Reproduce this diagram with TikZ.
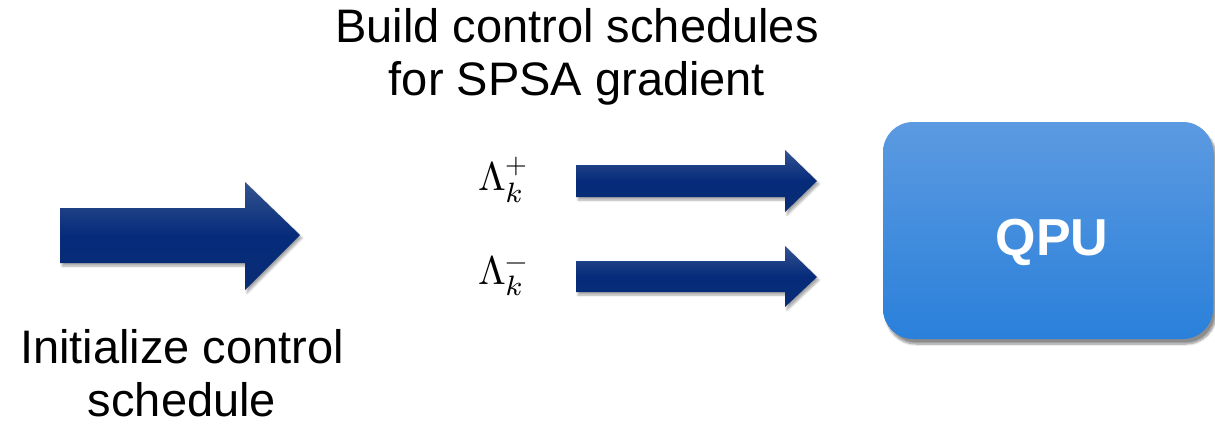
\documentclass[tikz,border=0pt]{standalone}
\usepackage{fontspec}
\setmainfont{Liberation Sans}
\usepackage{unicode-math}
\setmathfont{Latin Modern Math}
\usetikzlibrary{shadows.blur}
\definecolor{navytop}{HTML}{34528F}
\definecolor{navymid}{HTML}{052B7A}
\definecolor{navybot}{HTML}{0A2D74}
\definecolor{qputop}{HTML}{5C9AE1}
\definecolor{qpubot}{HTML}{2A80DA}
\tikzset{
  blockarrow/.style={top color=navytop, bottom color=navybot, middle color=navymid, draw=none,
    blur shadow={shadow xshift=2pt, shadow yshift=-3pt, shadow blur steps=6, shadow opacity=35}},
  label/.style={font=\fontsize{47}{53}\selectfont, align=center, inner sep=0pt},
  mathlabel/.style={font=\fontsize{10}{12}\selectfont, inner sep=0pt},
  qpubox/.style={draw=none, rounded corners=30pt, top color=qputop, bottom color=qpubot,
    blur shadow={shadow xshift=3pt, shadow yshift=-5pt, shadow blur steps=8, shadow opacity=45}}
}
\begin{document}
\begin{tikzpicture}[x=1pt,y=-1pt]
\useasboundingbox (0,0) rectangle (1215,424);
% left arrow
\path[blockarrow] (60,208) -- (245,208) -- (245,182) -- (300,235) -- (245,290) -- (245,263) -- (60,263) -- cycle;
% upper arrow
\path[blockarrow] (576,165) -- (785,165) -- (785,150) -- (817,181) -- (785,212) -- (785,197) -- (576,197) -- cycle;
% lower arrow
\path[blockarrow] (576,261) -- (785,261) -- (785,246) -- (817,277) -- (785,307) -- (785,292) -- (576,292) -- cycle;
% QPU
\path[qpubox] (883,122) rectangle (1213,339);
\node[font=\fontsize{52}{60}\selectfont\bfseries, text=white, anchor=base] (qpu) at (1052,255) {QPU};
% labels
\node[label] (build) at (577,57) {Build control schedules\\for SPSA gradient};
\node[label] (init) at (182,373) {Initialize control\\schedule};
\node[mathlabel] (lp) at (504,180) {\scalebox{4}{$\Lambda_k^+$}};
\node[mathlabel] (lm) at (504,276) {\scalebox{4}{$\Lambda_k^-$}};
\end{tikzpicture}
\end{document}
